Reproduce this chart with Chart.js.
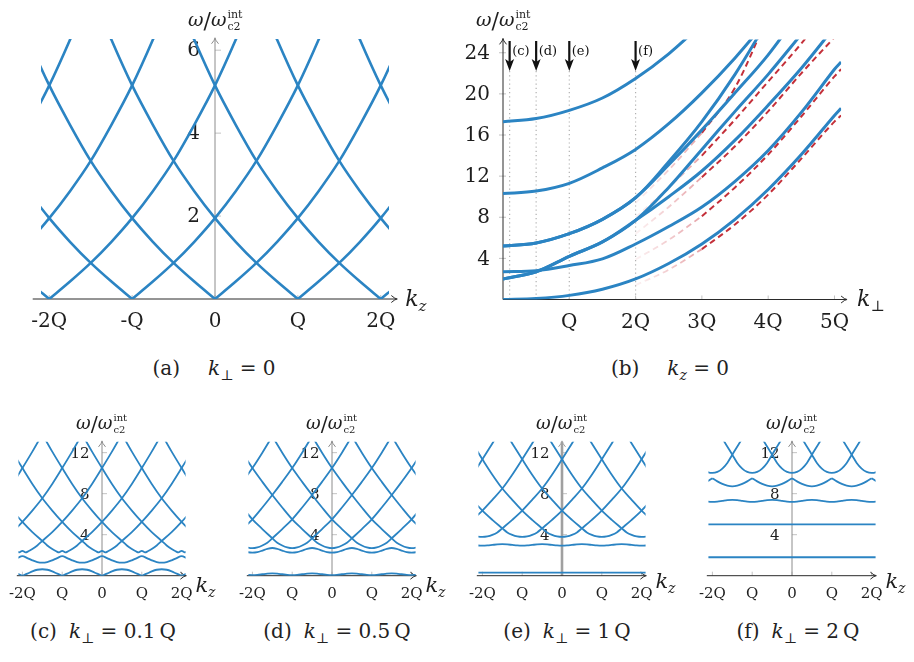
<!DOCTYPE html>
<html>
<head>
<meta charset="utf-8">
<script src="https://cdn.jsdelivr.net/npm/chart.js@4.4.0/dist/chart.umd.min.js"></script>
<style>
    body { margin: 0; background: #fff; width: 914px; height: 662px; position: relative; overflow: hidden; }
    canvas { position: absolute; }
    .cap { position: absolute; transform: translateX(-50%); white-space: nowrap; font: 20px "DejaVu Serif", "Liberation Serif", serif; color: #222; }
    .cap sub { font-size: 14px; }
    .cap .tag { display: inline-block; margin-right: 28px; }
    .low .tag { margin-right: 12px; }
</style>
</head>
<body>
<canvas id="pa"></canvas>
<canvas id="pb"></canvas>
<canvas id="pc"></canvas>
<canvas id="pd"></canvas>
<canvas id="pe"></canvas>
<canvas id="pf"></canvas>

<div class="cap" style="left:214px;top:356px"><span class="tag">(a)</span><i>k</i><sub>⊥</sub> = 0</div>
<div class="cap" style="left:670px;top:356px"><span class="tag">(b)</span><i>k</i><sub><i>z</i></sub> = 0</div>
<div class="cap low" style="left:103px;top:619px"><span class="tag">(c)</span><i>k</i><sub>⊥</sub> = 0.1&thinsp;Q</div>
<div class="cap low" style="left:337px;top:619px"><span class="tag">(d)</span><i>k</i><sub>⊥</sub> = 0.5&thinsp;Q</div>
<div class="cap low" style="left:567px;top:619px"><span class="tag">(e)</span><i>k</i><sub>⊥</sub> = 1&thinsp;Q</div>
<div class="cap low" style="left:798px;top:619px"><span class="tag">(f)</span><i>k</i><sub>⊥</sub> = 2&thinsp;Q</div>

<script>
// ---- (a) k_perp = 0 : one branch read at distance d (in Q) from its zero, repeated at each zero
const aBranchD = [0, 0.25, 0.5, 0.75, 1, 1.25, 1.5, 1.75, 2, 2.25, 2.5, 2.75, 3];
const aBranchW = [0, 0.42, 0.87, 1.38, 1.95, 2.6, 3.33, 4.2, 5.15, 6.25, 7.45, 8.8, 10.3];
const aCenters = [-4, -3, -2, -1, 0, 1, 2, 3, 4];
const aTicksX = [-2, -1, 0, 1, 2];
const aLabelsX = ['-2Q', '-Q', '0', 'Q', '2Q'];
const aTicksY = [2, 4, 6];

// ---- (b) k_z = 0 : bands vs k_perp
const bK = [0, 0.5, 1, 1.5, 2, 2.5, 3, 3.5, 4, 4.5, 5, 5.1];
const bBand1 = [17.3, 17.6, 18.4, 19.6, 21.5, 23.9, 26.8];
const bBand2 = [10.3, 10.55, 11.3, 12.8, 14.6, 17.1, 20.1, 23.5, 27.3];
const bBand3 = [5.2, 5.5, 6.4, 7.8, 9.9, 13.4, 17.3, 21.9, 27.2];
const bBand4 = [5.2, 5.5, 6.4, 7.8, 9.9, 13.1, 16.5, 20.1, 23.8, 28.2];
const bBand5 = [2.0, 2.7, 4.2, 5.6, 7.7, 10.9, 14.6, 18.3, 21.9, 25.8];
const bBand6 = [2.0, 2.7, 4.2, 5.6, 7.7, 10.0, 12.5, 15.5, 18.9, 22.5, 26.5];
const bBand7 = [2.7, 2.8, 3.3, 3.95, 5.4, 7.1, 9.0, 11.5, 14.5, 18.2, 22.4, 23.1];
const bBand8 = [0, 0.1, 0.4, 1.0, 2.0, 3.5, 5.4, 7.8, 10.7, 14.1, 17.9, 18.6];
// red dashed guides, from k_perp = 2Q (faded up to 3Q)
const bRedK = [2, 2.5, 3, 3.5, 4, 4.5, 5, 5.1];
const bRed1 = [1.4, 2.9, 4.9, 7.3, 10.2, 13.7, 17.3, 17.9];
const bRed2 = [3.9, 5.8, 8.1, 10.9, 14.1, 17.8, 21.7, 22.4];
const bRed3 = [6.4, 9.0, 11.9, 14.9, 18.3, 22.0, 25.5];
const bRed4 = [8.0, 10.9, 14.0, 17.5, 21.2, 24.9, 29.0];
const bRed5 = [9.4, 12.6, 16.2, 20.6, 27.6];
const bTicksX = [1, 2, 3, 4, 5];
const bLabelsX = ['Q', '2Q', '3Q', '4Q', '5Q'];
const bTicksY = [4, 8, 12, 16, 20, 24];
const bMarkK = [0.1, 0.5, 1, 2];
const bMarkLabels = ['(c)', '(d)', '(e)', '(f)'];

// ---- (c)-(f) bands vs k_z, one period each
const lowTicksX = [-2, -1, 0, 1, 2];
const lowLabelsX = ['-2Q', 'Q', '0', 'Q', '2Q'];
const lowTicksY = [4, 8, 12];
const armOffsets = [0, 0.25, 0.5, 0.75, 1, 1.25, 1.5, 1.75, 2];
const halfOffsets = [-0.5, -0.375, -0.25, -0.125, 0, 0.125, 0.25, 0.375, 0.5];
const cellOffsets = [0, 0.125, 0.25, 0.375, 0.5, 0.625, 0.75, 0.875, 1];
const wiggleOffsets = [-0.5, -0.375, -0.25, -0.15, -0.08, 0, 0.08, 0.15, 0.25, 0.375, 0.5];

const cArm = [3.4, 4.25, 5.25, 6.35, 7.55, 8.95, 10.5, 12.1, 13.8];
const cBand1 = [0, 0.2, 0.42, 0.58, 0.63, 0.58, 0.42, 0.2, 0];
const cBand2 = [1.27, 1.33, 1.5, 1.72, 1.9, 1.72, 1.5, 1.33, 1.27];
const cBand3 = [3.4, 2.95, 2.6, 2.38, 2.28, 2.42, 2.28, 2.38, 2.6, 2.95, 3.4];

const dArm = [3.65, 4.55, 5.5, 6.65, 7.87, 9.15, 10.5, 12.0, 13.6];
const dBand1 = [0.22, 0.2, 0.14, 0.08, 0.06, 0.08, 0.14, 0.2, 0.22];
const dBand2 = [2.7, 2.62, 2.45, 2.3, 2.25, 2.3, 2.45, 2.62, 2.7];
const dBand3 = [3.65, 3.22, 2.95, 2.76, 2.68, 2.76, 2.95, 3.22, 3.65];

const eArm = [4.62, 5.45, 6.35, 7.4, 8.5, 9.85, 11.35, 12.9, 14.5];
const eBand1 = [0.3, 0.3, 0.3, 0.3, 0.3, 0.3, 0.3, 0.3, 0.3];
const eBand2 = [3.07, 3.05, 3.0, 2.95, 2.93, 2.95, 3.0, 3.05, 3.07];
const eBand3 = [4.62, 4.22, 3.98, 3.83, 3.78, 3.83, 3.98, 4.22, 4.62];

const fArm = [11.8, 13.4, 15.2];
const fBand1 = [1.8, 1.8, 1.8, 1.8, 1.8, 1.8, 1.8, 1.8, 1.8];
const fBand2 = [5.0, 5.0, 5.0, 5.0, 5.0, 5.0, 5.0, 5.0, 5.0];
const fBand3 = [7.4, 7.37, 7.3, 7.23, 7.2, 7.23, 7.3, 7.37, 7.4];
const fBand4 = [9.5, 9.2, 8.95, 8.78, 8.72, 8.78, 8.95, 9.2, 9.5];
const fBand5 = [11.8, 11.0, 10.45, 10.12, 10.02, 10.12, 10.45, 11.0, 11.8];

const BLUE = '#2b84c3';
const RED = '#c4303a';
const FONT = '"DejaVu Serif", "Liberation Serif", serif';

function line(points, width, extra) {
    return Object.assign({
        data: points, borderColor: BLUE, borderWidth: width, pointRadius: 0,
        fill: false, cubicInterpolationMode: 'monotone'
    }, extra || {});
}

function seg(ctx, x1, y1, x2, y2) {
    ctx.beginPath();
    ctx.moveTo(x1, y1);
    ctx.lineTo(x2, y2);
    ctx.stroke();
}

// small latex-like arrow tip
function tip(ctx, x, y, dx, dy, color, lw) {
    const nx = -dy, ny = dx;
    ctx.save();
    ctx.strokeStyle = color;
    ctx.lineWidth = lw;
    ctx.beginPath();
    ctx.moveTo(x - dx * 6 + nx * 3.5, y - dy * 6 + ny * 3.5);
    ctx.quadraticCurveTo(x - dx * 2, y - dy * 2, x, y);
    ctx.quadraticCurveTo(x - dx * 2, y - dy * 2, x - dx * 6 - nx * 3.5, y - dy * 6 - ny * 3.5);
    ctx.stroke();
    ctx.restore();
}

function omegaTitle(ctx, x, y, s) {
    ctx.textAlign = 'left';
    ctx.textBaseline = 'alphabetic';
    ctx.font = `italic ${s}px ${FONT}`;
    ctx.fillText('ω', x, y);
    let w = ctx.measureText('ω').width;
    ctx.font = `${Math.round(s * 1.15)}px ${FONT}`;
    ctx.fillText('/', x + w, y + 2);
    w += ctx.measureText('/').width;
    ctx.font = `italic ${s}px ${FONT}`;
    ctx.fillText('ω', x + w, y);
    w += ctx.measureText('ω').width + 1;
    ctx.font = `${Math.round(s * 0.58)}px ${FONT}`;
    ctx.fillText('int', x + w, y - s * 0.42);
    ctx.fillText('c2', x + w, y + s * 0.2);
}

function kTitle(ctx, x, y, s, sub) {
    ctx.textAlign = 'left';
    ctx.textBaseline = 'alphabetic';
    ctx.font = `italic ${s}px ${FONT}`;
    ctx.fillText('k', x, y);
    const w = ctx.measureText('k').width;
    ctx.font = (sub === 'z' ? 'italic ' : '') + `${Math.round(s * 0.68)}px ${FONT}`;
    ctx.fillText(sub, x + w, y + s * 0.22);
}

const decorPlugin = {
    id: 'decor',
    beforeDatasetsDraw(chart, args, o) {
        const ctx = chart.ctx;
        const px = v => chart.scales.x.getPixelForValue(v);
        const py = v => chart.scales.y.getPixelForValue(v);
        const ax = px(o.yAxisAt), ay = py(0);
        ctx.save();

        // dotted markers of panel (b)
        if (o.marks) {
            ctx.strokeStyle = '#b0b0b0';
            ctx.lineWidth = 1.2;
            ctx.setLineDash([1.2, 3]);
            o.marks.k.forEach(k => seg(ctx, px(k), o.marks.y1 - o.oy, px(k), ay));
            ctx.setLineDash([]);
        }

        // tick marks
        ctx.strokeStyle = '#c2c2c2';
        ctx.lineWidth = 1;
        o.ticksX.forEach(t => seg(ctx, px(t), ay, px(t), ay - 4));
        o.ticksY.forEach(t => seg(ctx, ax + o.yTick[0], py(t), ax + o.yTick[1], py(t)));

        // y axis
        const yTop = py(o.yAxisTop);
        ctx.strokeStyle = o.yColor;
        ctx.lineWidth = o.yWidth;
        seg(ctx, ax, ay, ax, yTop + 1);
        tip(ctx, ax, yTop, 0, -1, o.yColor, 1);

        // x axis
        const xa = px(o.xAxis[0]), xb = px(o.xAxis[1]);
        ctx.strokeStyle = '#2a2a2a';
        ctx.lineWidth = 1;
        seg(ctx, xa, ay, xb - 1, ay);
        tip(ctx, xb, ay, 1, 0, '#2a2a2a', 1);

        // tick labels
        ctx.fillStyle = '#1e1e1e';
        ctx.font = o.tickFont;
        ctx.textAlign = 'center';
        ctx.textBaseline = 'middle';
        o.ticksX.forEach((t, i) => ctx.fillText(o.labelsX[i], px(t), ay + o.xLabelDy));
        ctx.textAlign = 'right';
        o.ticksY.forEach(t => ctx.fillText(String(t), ax + o.yLabelDx, py(t) + 1));

        // axis titles
        omegaTitle(ctx, o.omega[0] - o.ox, o.omega[1] - o.oy, o.omega[2]);
        kTitle(ctx, xb + o.k[0], o.k[1] - o.oy, o.k[2], o.k[3]);
        ctx.restore();
    },
    afterDatasetsDraw(chart, args, o) {
        if (!o.marks) return;
        const ctx = chart.ctx;
        const px = v => chart.scales.x.getPixelForValue(v);
        const y0 = o.marks.y0 - o.oy, y1 = o.marks.y1 - o.oy;
        ctx.save();
        ctx.fillStyle = '#111';
        ctx.strokeStyle = '#111';
        o.marks.k.forEach((k, i) => {
            const x = px(k);
            ctx.lineWidth = 2.2;
            seg(ctx, x, y0, x, y1 - 8);
            ctx.beginPath();
            ctx.moveTo(x, y1);
            ctx.lineTo(x - 4.5, y1 - 12);
            ctx.lineTo(x, y1 - 9);
            ctx.lineTo(x + 4.5, y1 - 12);
            ctx.closePath();
            ctx.fill();
            ctx.font = `13px ${FONT}`;
            ctx.textAlign = 'left';
            ctx.textBaseline = 'middle';
            ctx.fillText(o.marks.labels[i], x + 2.5, 52 - o.oy);
        });
        ctx.restore();
    }
};

function makeChart(id, box, area, xr, yr, sets, decor) {
    const cv = document.getElementById(id);
    cv.width = box.w;
    cv.height = box.h;
    cv.style.left = box.x + 'px';
    cv.style.top = box.y + 'px';
    decor.ox = box.x;
    decor.oy = box.y;
    return new Chart(cv, {
        type: 'line',
        data: { datasets: sets },
        options: {
            responsive: false,
            animation: false,
            devicePixelRatio: 1,
            events: [],
            layout: {
                padding: {
                    left: area.l - box.x, right: box.x + box.w - area.r,
                    top: area.t - box.y, bottom: box.y + box.h - area.b
                }
            },
            scales: {
                x: { type: 'linear', display: false, min: xr[0], max: xr[1] },
                y: { type: 'linear', display: false, min: yr[0], max: yr[1] }
            },
            plugins: { legend: { display: false }, tooltip: { enabled: false }, decor: decor }
        },
        plugins: [decorPlugin]
    });
}

// ---- panel (a)
const aSets = [];
aCenters.forEach(c => {
    aSets.push(line(aBranchD.map((d, i) => ({ x: c + d, y: aBranchW[i] })), 2.6));
    aSets.push(line(aBranchD.map((d, i) => ({ x: c - d, y: aBranchW[i] })).reverse(), 2.6));
});
makeChart('pa', { x: 0, y: 0, w: 450, h: 345 }, { l: 41, r: 389, t: 39, b: 299 },
    [-2.1, 2.1], [0, 6.27], aSets, {
        yAxisAt: 0, yAxisTop: 6.3, xAxis: [-2.2, 2.2], yColor: '#8c8c8c', yWidth: 1,
        ticksX: aTicksX, labelsX: aLabelsX, ticksY: aTicksY, yTick: [0, 6],
        tickFont: `20px ${FONT}`, xLabelDy: 23, yLabelDx: -15,
        omega: [188, 26, 19], k: [8, 306, 22, 'z']
    });

// ---- panel (b)
function fadedRed(c) {
    const ch = c.chart;
    if (!ch.chartArea) return 'rgba(210,70,80,0.3)';
    const x1 = ch.scales.x.getPixelForValue(2), x2 = ch.scales.x.getPixelForValue(3);
    const g = ch.ctx.createLinearGradient(x1, 0, x2, 0);
    g.addColorStop(0, 'rgba(215,90,100,0.08)');
    g.addColorStop(1, 'rgba(205,70,80,0.5)');
    return g;
}
const bSets = [];
[bBand1, bBand2, bBand3, bBand4, bBand5, bBand6, bBand7, bBand8].forEach(v => {
    bSets.push(line(v.map((w, i) => ({ x: bK[i], y: w })), 3, { cubicInterpolationMode: 'default', tension: 0.35 }));
});
[bRed1, bRed2, bRed3, bRed4, bRed5].forEach(v => {
    const pts = v.map((w, i) => ({ x: bRedK[i], y: w }));
    bSets.push(line(pts.slice(0, 3), 1.8, { borderColor: fadedRed, borderDash: [6, 4] }));
    bSets.push(line(pts.slice(2), 2, { borderColor: RED, borderDash: [6, 4] }));
});
makeChart('pb', { x: 440, y: 0, w: 474, h: 345 }, { l: 503, r: 841.1, t: 39.4, b: 299.5 },
    [0, 5.1], [0, 25.3], bSets, {
        yAxisAt: 0, yAxisTop: 25.4, xAxis: [0, 5.19], yColor: '#2a2a2a', yWidth: 1,
        ticksX: bTicksX, labelsX: bLabelsX, ticksY: bTicksY, yTick: [-4, 3],
        tickFont: `20px ${FONT}`, xLabelDy: 23, yLabelDx: -13,
        omega: [476, 26, 19], k: [10, 306, 22, '⊥'],
        marks: { k: bMarkK, labels: bMarkLabels, y0: 41, y1: 71 }
    });

// ---- panels (c)-(f)
function lowSets(arm, bands) {
    const sets = [];
    const lw = 1.8;
    for (let h = -3.5; h <= 3.5; h += 1) {
        const offs = armOffsets.slice(0, arm.length);
        sets.push(line(offs.map((o, i) => ({ x: h + o, y: arm[i] })), lw));
        sets.push(line(offs.map((o, i) => ({ x: h - o, y: arm[i] })).reverse(), lw));
    }
    bands.forEach(b => {
        if (b.cusp) {
            for (let n = -3; n <= 3; n++) {
                sets.push(line(b.offsets.map((o, i) => ({ x: n + o, y: b.values[i] })), lw));
            }
        } else {
            const pts = [];
            for (let n = -3; n <= 3; n++) {
                b.offsets.forEach((o, i) => {
                    if (i > 0 || n === -3) pts.push({ x: n + o, y: b.values[i] });
                });
            }
            sets.push(line(pts, lw));
        }
    });
    return sets;
}

const Q = 39.8;
function lowPanel(id, x0, arm, bands, yWidth, yColor, kY) {
    makeChart(id, { x: x0 - 101, y: 400, w: 220, h: 212 },
        { l: x0 - 2.1 * Q, r: x0 + 2.1 * Q, t: 441.7, b: 575.7 },
        [-2.1, 2.1], [0, 13.07], lowSets(arm, bands), {
            yAxisAt: 0, yAxisTop: 13.15, xAxis: [-2.14, 2.12], yColor: yColor, yWidth: yWidth,
            ticksX: lowTicksX, labelsX: lowLabelsX, ticksY: lowTicksY, yTick: [0, 5],
            tickFont: `15px ${FONT}`, xLabelDy: 18, yLabelDx: -12.5,
            omega: [x0 - 26, 429, 18], k: [9, kY, 21, 'z']
        });
}

lowPanel('pc', 101.7, cArm, [
    { cusp: true, offsets: cellOffsets, values: cBand1 },
    { cusp: false, offsets: halfOffsets, values: cBand2 },
    { cusp: true, offsets: wiggleOffsets, values: cBand3 }
], 1, '#8c8c8c', 592);

lowPanel('pd', 331.8, dArm, [
    { cusp: false, offsets: halfOffsets, values: dBand1 },
    { cusp: false, offsets: halfOffsets, values: dBand2 },
    { cusp: true, offsets: halfOffsets, values: dBand3 }
], 1, '#8c8c8c', 592);

lowPanel('pe', 561.7, eArm, [
    { cusp: false, offsets: halfOffsets, values: eBand1 },
    { cusp: false, offsets: halfOffsets, values: eBand2 },
    { cusp: true, offsets: halfOffsets, values: eBand3 }
], 2.6, '#a0a0a0', 588);

lowPanel('pf', 791.7, fArm, [
    { cusp: false, offsets: halfOffsets, values: fBand1 },
    { cusp: false, offsets: halfOffsets, values: fBand2 },
    { cusp: false, offsets: halfOffsets, values: fBand3 },
    { cusp: true, offsets: cellOffsets, values: fBand4 },
    { cusp: true, offsets: halfOffsets, values: fBand5 }
], 1, '#8c8c8c', 588);
</script>
</body>
</html>
